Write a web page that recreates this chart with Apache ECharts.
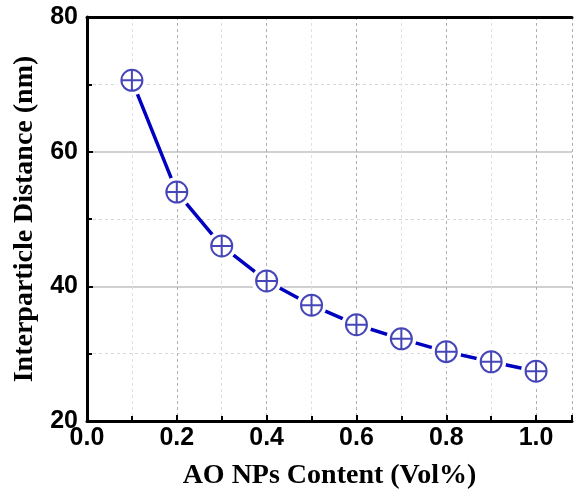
<!DOCTYPE html>
<html>
<head>
<meta charset="utf-8">
<script src="https://cdn.jsdelivr.net/npm/echarts@6/dist/echarts.min.js"></script>
<style>html,body{margin:0;padding:0;background:#fff}#c{width:574px;height:498px}</style>
</head>
<body>
<div id="c"></div>
<script>
var xValues = [0.1, 0.2, 0.3, 0.4, 0.5, 0.6, 0.7, 0.8, 0.9, 1.0];
var distances = [70.6, 54.0, 46.0, 40.8, 37.2, 34.3, 32.2, 30.3, 28.8, 27.4];
var xTitle = 'AO NPs Content (Vol%)';
var yTitle = 'Interparticle Distance (nm)';

var pts = xValues.map(function (x, i) { return [x, distances[i]]; });
var chart = echarts.init(document.getElementById('c'), null, {renderer: 'canvas'});
var markerPath = 'path://M0,-10 A10,10 0 1,1 0,10 A10,10 0 1,1 0,-10 Z M-10,0 L10,0 M0,-10 L0,10';
var tickFont = {fontFamily: 'Liberation Sans, Arial, sans-serif', fontWeight: 'bold', fontSize: 25, color: '#000'};
var titleFont = {fontFamily: 'Liberation Serif, Times New Roman, serif', fontWeight: 'bold', fontSize: 28, color: '#000'};
chart.setOption({
  animation: false,
  grid: {left: 87, right: 2, top: 17, bottom: 77},
  xAxis: [{
    type: 'value', min: 0, max: 1.08, interval: 0.2,
    axisLine: {lineStyle: {color: '#000', width: 3}},
    axisTick: {inside: true, length: 6, lineStyle: {color: '#000', width: 2}},
    minorTick: {show: true, splitNumber: 2, length: 5, lineStyle: {color: '#000', width: 2}},
    axisLabel: Object.assign({margin: 5, showMaxLabel: false, formatter: function (v) { return v.toFixed(1); }}, tickFont),
    splitLine: {show: true, lineStyle: {color: '#b0b0b0', type: [3, 3], width: 1}},
    minorSplitLine: {show: true, lineStyle: {color: '#e0e0e0', type: [3, 3], width: 1}},
    name: xTitle, nameLocation: 'middle', nameGap: 41,
    nameTextStyle: titleFont
  }, {
    type: 'value', position: 'top', min: 0, max: 1.08,
    axisLine: {show: true, lineStyle: {color: '#000', width: 3}},
    axisTick: {show: false}, axisLabel: {show: false}, splitLine: {show: false}
  }],
  yAxis: {
    type: 'value', min: 20, max: 80, interval: 20,
    axisLine: {lineStyle: {color: '#000', width: 3}},
    axisTick: {inside: true, length: 6, lineStyle: {color: '#000', width: 2}},
    minorTick: {show: true, splitNumber: 2, length: 5, lineStyle: {color: '#000', width: 2}},
    axisLabel: Object.assign({margin: 9}, tickFont),
    splitLine: {show: true, lineStyle: {color: '#c0c0c0', width: 1.5}},
    minorSplitLine: {show: true, lineStyle: {color: '#d8d8d8', type: [3, 3], width: 1}},
    name: yTitle, nameLocation: 'middle', nameGap: 48,
    nameTextStyle: titleFont
  },
  series: [{
    type: 'line', data: pts, showSymbol: false, z: 2,
    lineStyle: {color: '#0000c0', width: 3.5}
  }, {
    type: 'scatter', data: pts, symbol: 'circle', symbolSize: 30, z: 3,
    itemStyle: {color: '#fff', opacity: 1}, silent: true
  }, {
    type: 'scatter', data: pts, symbol: markerPath, symbolSize: 21, z: 4,
    itemStyle: {color: 'rgba(0,0,0,0)', borderColor: '#1818a8', borderWidth: 2}
  }]
});
</script>
</body>
</html>
